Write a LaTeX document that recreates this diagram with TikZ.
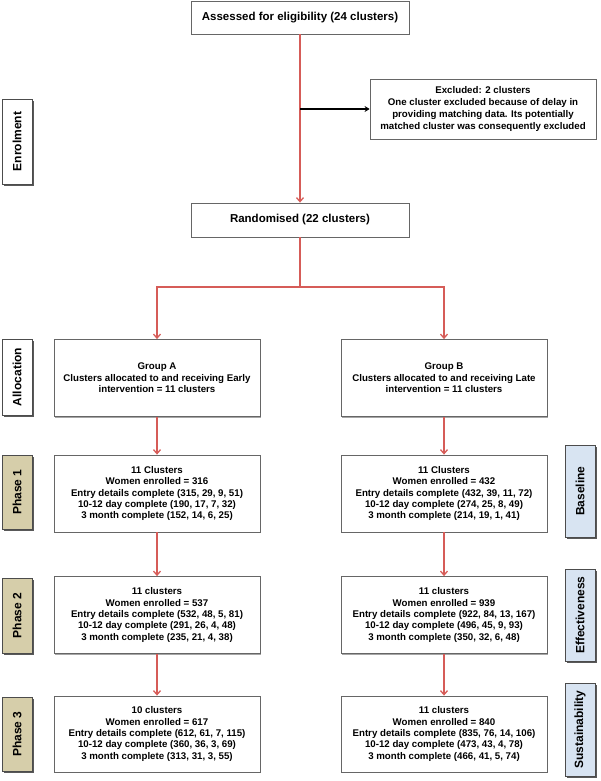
\documentclass[tikz,border=0pt]{standalone}
\usepackage{fontspec}
\setmainfont{Liberation Sans}
\usetikzlibrary{arrows.meta,shadows}
\definecolor{redline}{RGB}{214,92,88}
\definecolor{tanfill}{RGB}{214,206,170}
\definecolor{bluefill}{RGB}{216,228,242}
\begin{document}
\begin{tikzpicture}[x=1pt,y=-1pt,
  box/.style={draw=black!60, line width=0.8pt, fill=white, align=center,
    font=\bfseries\fontsize{9.7}{11.4}\selectfont, inner sep=2pt,
    drop shadow={shadow xshift=1.3pt, shadow yshift=-1.3pt, fill=black!35, opacity=1}},
  bigbox/.style={box, font=\bfseries\fontsize{11.5}{13}\selectfont},
  lab/.style={draw=black!70, line width=0.8pt, inner sep=0pt,
    font=\bfseries\fontsize{12}{14}\selectfont, minimum width=30,
    drop shadow={shadow xshift=2pt, shadow yshift=-2pt, fill=black!65, opacity=1}},
  redarrow/.style={draw=redline, line width=1.3pt, -{Straight Barb[length=4pt,width=7pt]}},
  blackarrow/.style={draw=black, line width=1.3pt, -{Stealth[length=5pt,width=6pt]}}
]
\useasboundingbox (0,0) rectangle (600,781);

% main boxes
\node[bigbox, minimum width=218, minimum height=33] (assess) at (300,17.5) {Assessed for eligibility (24 clusters)};
\node[box, font=\bfseries\fontsize{9.7}{12}\selectfont, minimum width=226, minimum height=60] (excl) at (483,109)
  {Excluded: 2 clusters\\One cluster excluded because of delay in\\providing matching data. Its potentially\\matched cluster was consequently excluded};
\node[bigbox, minimum width=218, minimum height=34] (rand) at (300,220) {Randomised (22 clusters)};

\node[box, minimum width=206, minimum height=77] (gA) at (157,378)
  {Group A\\Clusters allocated to and receiving Early\\intervention = 11 clusters};
\node[box, minimum width=206, minimum height=77] (gB) at (444,378)
  {Group B\\Clusters allocated to and receiving Late\\intervention = 11 clusters};

\node[box, minimum width=206, minimum height=77] (a1) at (157,493.5)
  {11 Clusters\\Women enrolled = 316\\Entry details complete (315, 29, 9, 51)\\10-12 day complete (190, 17, 7, 32)\\3 month complete (152, 14, 6, 25)};
\node[box, minimum width=206, minimum height=77] (b1) at (444,493.5)
  {11 Clusters\\Women enrolled = 432\\Entry details complete (432, 39, 11, 72)\\10-12 day complete (274, 25, 8, 49)\\3 month complete (214, 19, 1, 41)};

\node[box, minimum width=206, minimum height=77] (a2) at (157,615)
  {11 clusters\\Women enrolled = 537\\Entry details complete (532, 48, 5, 81)\\10-12 day complete (291, 26, 4, 48)\\3 month complete (235, 21, 4, 38)};
\node[box, minimum width=206, minimum height=77] (b2) at (444,615)
  {11 clusters\\Women enrolled = 939\\Entry details complete (922, 84, 13, 167)\\10-12 day complete (496, 45, 9, 93)\\3 month complete (350, 32, 6, 48)};

\node[box, minimum width=206, minimum height=76] (a3) at (157,734)
  {10 clusters\\Women enrolled = 617\\Entry details complete (612, 61, 7, 115)\\10-12 day complete (360, 36, 3, 69)\\3 month complete (313, 31, 3, 55)};
\node[box, minimum width=206, minimum height=76] (b3) at (444,734)
  {11 clusters\\Women enrolled = 840\\Entry details complete (835, 76, 14, 106)\\10-12 day complete (473, 43, 4, 78)\\3 month complete (466, 41, 5, 74)};

% side labels
\node[lab, fill=white, minimum height=85] (lenrol) at (17,141.5) {\rotatebox{90}{Enrolment}};
\node[lab, fill=white, minimum height=76] (lalloc) at (17,377) {\rotatebox{90}{Allocation}};
\node[lab, fill=tanfill, minimum height=74] (lp1) at (17,492) {\rotatebox{90}{Phase 1}};
\node[lab, fill=tanfill, minimum height=75] (lp2) at (17,615.5) {\rotatebox{90}{Phase 2}};
\node[lab, fill=tanfill, minimum height=74] (lp3) at (17,734) {\rotatebox{90}{Phase 3}};
\node[lab, fill=bluefill, minimum height=92] (lbase) at (580,491) {\rotatebox{90}{Baseline}};
\node[lab, fill=bluefill, minimum height=92] (leff) at (580,615) {\rotatebox{90}{Effectiveness}};
\node[lab, fill=bluefill, minimum height=93] (lsus) at (580,729.5) {\rotatebox{90}{Sustainability}};

% connectors
\draw[redarrow] (assess.south) -- (rand.north);
\draw[blackarrow] (assess.south |- excl.west) -- (excl.west);
\coordinate (branch) at (300,287);
\draw[redarrow] (rand.south) -- (branch) -| (gA.north);
\draw[redarrow] (branch) -| (gB.north);
\draw[redarrow] (gA.south) -- (a1.north);
\draw[redarrow] (gB.south) -- (b1.north);
\draw[redarrow] (a1.south) -- (a2.north);
\draw[redarrow] (b1.south) -- (b2.north);
\draw[redarrow] (a2.south) -- (a3.north);
\draw[redarrow] (b2.south) -- (b3.north);
\end{tikzpicture}
\end{document}
